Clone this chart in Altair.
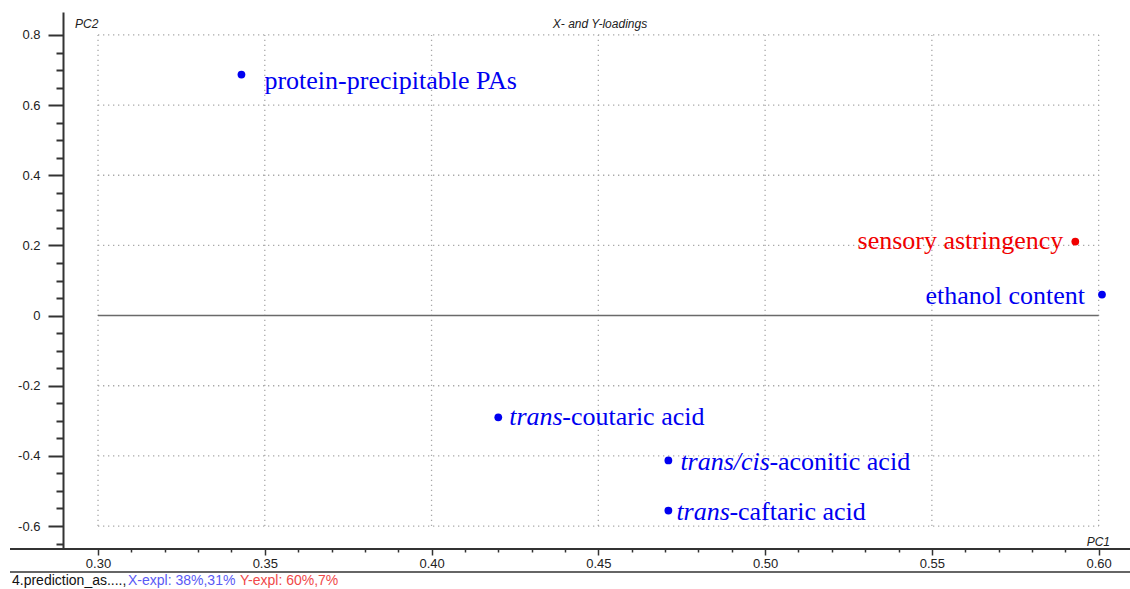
import altair as alt
import pandas as pd

# Loadings on the first two components
names = ["protein-precipitable PAs", "sensory astringency", "ethanol content",
         "trans-coutaric acid", "trans/cis-aconitic acid", "trans-caftaric acid"]
italic_part = ["", "", "", "trans", "trans/cis", "trans"]
plain_part = ["protein-precipitable PAs", "sensory astringency", "ethanol content",
              "-coutaric acid", "-aconitic acid", "-caftaric acid"]
pc1 = [0.343, 0.593, 0.601, 0.420, 0.471, 0.471]
pc2 = [0.687, 0.211, 0.060, -0.290, -0.413, -0.556]
block = ["X", "Y", "X", "X", "X", "X"]

# Axis ticks
x_major = [0.30, 0.35, 0.40, 0.45, 0.50, 0.55, 0.60]
y_major = [-0.6, -0.4, -0.2, 0.0, 0.2, 0.4, 0.6, 0.8]
x_minor = [0.31, 0.32, 0.33, 0.34, 0.36, 0.37, 0.38, 0.39, 0.41, 0.42, 0.43, 0.44,
           0.46, 0.47, 0.48, 0.49, 0.51, 0.52, 0.53, 0.54, 0.56, 0.57, 0.58, 0.59]
y_minor = [-0.65, -0.55, -0.5, -0.45, -0.35, -0.3, -0.25, -0.15, -0.1, -0.05,
           0.05, 0.1, 0.15, 0.25, 0.3, 0.35, 0.45, 0.5, 0.55, 0.65, 0.7, 0.75]

title_text = "X- and Y-loadings"
x_name = "PC1"
y_name = "PC2"
footer_parts = ["4.prediction_as....,", "X-expl: 38%,31%", "Y-expl: 60%,7%"]

W, H = 1067, 537
BLUE, RED = "#0000f0", "#f00000"
SERIF = "Liberation Serif"
SANS = "Liberation Sans"
AXIS_COLOR = "#333333"

xs = alt.Scale(domain=[0.2895, 0.6094], nice=False, zero=False)
ys = alt.Scale(domain=[-0.6655, 0.8655], nice=False, zero=False)

df = pd.DataFrame({"name": names, "ital": italic_part, "plain": plain_part,
                   "pc1": pc1, "pc2": pc2, "block": block})

# Dotted grid limited to the labelled range
hgrid = pd.DataFrame({"v": [v for v in y_major if v != 0.0],
                      "a": x_major[0], "b": x_major[-1]})
vgrid = pd.DataFrame({"v": x_major, "a": y_major[0], "b": y_major[-1]})
zero = pd.DataFrame({"v": [0.0], "a": x_major[0], "b": x_major[-1]})

grid_h = alt.Chart(hgrid).mark_rule(color="#a8a8a8", strokeWidth=1.3,
                                     strokeDash=[1.3, 3.7]).encode(
    y=alt.Y("v:Q", scale=ys, axis=None),
    x=alt.X("a:Q", scale=xs, axis=None), x2="b:Q")
grid_v = alt.Chart(vgrid).mark_rule(color="#a8a8a8", strokeWidth=1.3,
                                     strokeDash=[1.3, 3.7]).encode(
    x=alt.X("v:Q", scale=xs, axis=None),
    y=alt.Y("a:Q", scale=ys, axis=None), y2="b:Q")
zero_line = alt.Chart(zero).mark_rule(color="#6a6a6a", strokeWidth=1.5).encode(
    y=alt.Y("v:Q", scale=ys, axis=None),
    x=alt.X("a:Q", scale=xs, axis=None), x2="b:Q")

one = pd.DataFrame({"k": [0]})

# Long baseline under the plot and the separator above the footer
base_line = alt.Chart(one).mark_rule(color=AXIS_COLOR, strokeWidth=2).encode(
    x=alt.value(-53), x2=alt.value(W), y=alt.value(H))
footer_line = alt.Chart(one).mark_rule(color=AXIS_COLOR, strokeWidth=1.5).encode(
    x=alt.value(-53), x2=alt.value(W), y=alt.value(560))

points = alt.Chart(df).mark_circle(size=60, opacity=1).encode(
    x=alt.X("pc1:Q", scale=xs, axis=alt.Axis(
        values=x_major, format=".2f", domain=False, grid=False, title=None,
        orient="bottom",
        tickSize=6, tickWidth=1.5, tickColor=AXIS_COLOR,
        labelFont=SANS, labelFontSize=13, labelColor="#222222", labelPadding=2)),
    y=alt.Y("pc2:Q", scale=ys, axis=alt.Axis(
        values=y_major, grid=False, title=None, orient="left",
        labelExpr="datum.value == 0 ? '0' : replace(format(datum.value, '.1f'), '\u2212', '-')",
        domain=True, domainColor=AXIS_COLOR, domainWidth=2,
        tickSize=15, tickWidth=2, tickColor=AXIS_COLOR,
        labelFont=SANS, labelFontSize=13, labelColor="#222222", labelPadding=8)),
    color=alt.Color("block:N", scale=alt.Scale(domain=["X", "Y"], range=[BLUE, RED]),
                    legend=None),
)

# Minor ticks drawn as a second, label-free pair of axes
minor = alt.Chart(df).mark_point(opacity=0).encode(
    x=alt.X("pc1:Q", scale=xs, axis=alt.Axis(
        values=x_minor, labels=False, domain=False, grid=False, title=None,
        orient="bottom", tickSize=3, tickWidth=1.5, tickColor=AXIS_COLOR)),
    y=alt.Y("pc2:Q", scale=ys, axis=alt.Axis(
        values=y_minor, labels=False, domain=False, grid=False, title=None,
        orient="left", tickSize=7, tickWidth=2, tickColor=AXIS_COLOR)),
)

# Label placement: (dx, dy, align, dx of the upright part after an italic prefix)
label_pos = {
    "protein-precipitable PAs": (23, 6, "left", 0),
    "sensory astringency": (-12, -1, "right", 0),
    "ethanol content": (-17, 1, "right", 0),
    "trans-coutaric acid": (11, 0, "left", 53),
    "trans/cis-aconitic acid": (12, 2, "left", 89),
    "trans-caftaric acid": (8, 1, "left", 53),
}

label_layers = []
for n, it in zip(names, italic_part):
    dx, dy, align, shift = label_pos[n]
    sub = alt.Chart(df).transform_filter(alt.datum.name == n)
    enc = dict(x=alt.X("pc1:Q", scale=xs, axis=None),
               y=alt.Y("pc2:Q", scale=ys, axis=None),
               color=alt.Color("block:N", scale=alt.Scale(domain=["X", "Y"], range=[BLUE, RED]),
                               legend=None))
    if it:
        label_layers.append(sub.mark_text(
            font=SERIF, fontSize=26, fontStyle="italic", align="left",
            baseline="middle", dx=dx, dy=dy).encode(text="ital:N", **enc))
    label_layers.append(sub.mark_text(
        font=SERIF, fontSize=26, align=align, baseline="middle",
        dx=dx + shift, dy=dy).encode(text="plain:N", **enc))

def note(text, x, y, align="left", size=12, color="#222222", style="normal"):
    return alt.Chart(one).mark_text(
        text=text, font=SANS, fontSize=size, fontStyle=style, color=color,
        align=align, baseline="middle").encode(x=alt.value(x), y=alt.value(y))

notes = [
    note(title_text, 537, 12, align="center", size=12, style="italic"),
    note(y_name, 12, 12, size=12, style="italic"),
    note(x_name, 1047, 530, align="right", size=12, style="italic"),
    note(footer_parts[0], -51, 569, size=14, color="#111111"),
    note(footer_parts[1], 65, 569, size=14, color="#5a5af5"),
    note(footer_parts[2], 177, 569, size=14, color="#f04848"),
]

chart = alt.layer(
    grid_h, grid_v, zero_line, base_line, footer_line, minor, points,
    *label_layers, *notes
).resolve_axis(x="independent", y="independent").properties(
    width=W, height=H,
    background="white",
    autosize=alt.AutoSizeParams(type="none"),
    padding={"left": 63, "top": 12, "right": 0, "bottom": 40},
).configure_view(strokeWidth=0, stroke="transparent")

chart.save("out.html", embed_options={"renderer": "svg", "actions": False})
